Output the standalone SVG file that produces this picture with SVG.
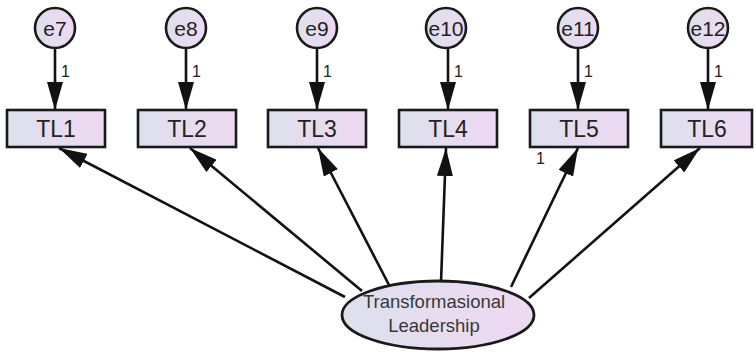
<svg xmlns="http://www.w3.org/2000/svg" width="756" height="352" viewBox="0 0 756 352">
  <defs>
    <linearGradient id="fillGrad" x1="0" y1="0" x2="1" y2="0">
      <stop offset="0" stop-color="#dde0ec"/>
      <stop offset="1" stop-color="#eed9f2"/>
    </linearGradient>
    <marker id="arrow" viewBox="0 0 28 16" refX="28" refY="8" markerWidth="28" markerHeight="16" markerUnits="userSpaceOnUse" orient="auto">
      <path d="M0,0 L28,8 L0,16 Z" fill="#111"/>
    </marker>
    <style>
      .box { fill: url(#fillGrad); stroke: #1a1a1a; stroke-width: 2.6; }
      .err { fill: url(#fillGrad); stroke: #1a1a1a; stroke-width: 2.6; }
      .lat { fill: url(#fillGrad); stroke: #1a1a1a; stroke-width: 2.8; }
      .lbl { font-family: "Liberation Sans", Arial, sans-serif; font-size: 23px; fill: #222; text-anchor: middle; }
      .elbl { font-family: "Liberation Sans", Arial, sans-serif; font-size: 21px; fill: #222; text-anchor: middle; }
      .llbl { font-family: "Liberation Sans", Arial, sans-serif; font-size: 18.5px; fill: #383838; text-anchor: middle; }
      .w { font-family: "Liberation Sans", Arial, sans-serif; font-size: 16px; fill: #222; }
      .path { stroke: #111; stroke-width: 2.6; fill: none; marker-end: url(#arrow); }
    </style>
  </defs>
  <rect width="756" height="352" fill="#ffffff"/>

  <g id="connectors">
    <!-- error terms to indicators -->
    <line class="path" x1="55" y1="48" x2="55" y2="110"/>
    <line class="path" x1="186" y1="48" x2="186" y2="110"/>
    <line class="path" x1="317" y1="48" x2="317" y2="110"/>
    <line class="path" x1="448" y1="48" x2="448" y2="110"/>
    <line class="path" x1="578" y1="48" x2="578" y2="110"/>
    <line class="path" x1="708" y1="48" x2="708" y2="110"/>
    <!-- latent factor to indicators -->
    <line class="path" x1="345" y1="297" x2="59" y2="148"/>
    <line class="path" x1="362" y1="291" x2="190" y2="148"/>
    <line class="path" x1="389" y1="285" x2="318" y2="148"/>
    <line class="path" x1="441" y1="282" x2="446" y2="148"/>
    <line class="path" x1="511" y1="287" x2="578" y2="148"/>
    <line class="path" x1="529" y1="298" x2="700" y2="148"/>
    <!-- fixed loadings -->
    <text class="w" x="61" y="77">1</text>
    <text class="w" x="192" y="77">1</text>
    <text class="w" x="323" y="77">1</text>
    <text class="w" x="454" y="77">1</text>
    <text class="w" x="584" y="77">1</text>
    <text class="w" x="714" y="77">1</text>
    <text class="w" x="536" y="164">1</text>
  </g>

  <g id="e7"><ellipse class="err" cx="55" cy="28" rx="20" ry="20"/><text class="elbl" x="55" y="36">e7</text></g>
  <g id="e8"><ellipse class="err" cx="186" cy="28" rx="20" ry="20"/><text class="elbl" x="186" y="36">e8</text></g>
  <g id="e9"><ellipse class="err" cx="317" cy="28" rx="20" ry="20"/><text class="elbl" x="317" y="36">e9</text></g>
  <g id="e10"><ellipse class="err" cx="446" cy="28" rx="20" ry="20"/><text class="elbl" x="446" y="36">e10</text></g>
  <g id="e11"><ellipse class="err" cx="578" cy="28" rx="20" ry="20"/><text class="elbl" x="578" y="36">e11</text></g>
  <g id="e12"><ellipse class="err" cx="708" cy="28" rx="20" ry="20"/><text class="elbl" x="708" y="36">e12</text></g>

  <g id="TL1"><rect class="box" x="7" y="110" width="98" height="37"/><text class="lbl" x="56" y="137">TL1</text></g>
  <g id="TL2"><rect class="box" x="138" y="110" width="98" height="37"/><text class="lbl" x="187" y="137">TL2</text></g>
  <g id="TL3"><rect class="box" x="268" y="110" width="98" height="37"/><text class="lbl" x="317" y="137">TL3</text></g>
  <g id="TL4"><rect class="box" x="399" y="110" width="98" height="37"/><text class="lbl" x="448" y="137">TL4</text></g>
  <g id="TL5"><rect class="box" x="530" y="110" width="98" height="37"/><text class="lbl" x="579" y="137">TL5</text></g>
  <g id="TL6"><rect class="box" x="661" y="110" width="91" height="37"/><text class="lbl" x="707" y="137">TL6</text></g>

  <g id="TransformasionalLeadership">
    <ellipse class="lat" cx="438" cy="315" rx="96" ry="34"/>
    <text class="llbl" x="434" y="308">Transformasional</text>
    <text class="llbl" x="434" y="332">Leadership</text>
  </g>
</svg>
